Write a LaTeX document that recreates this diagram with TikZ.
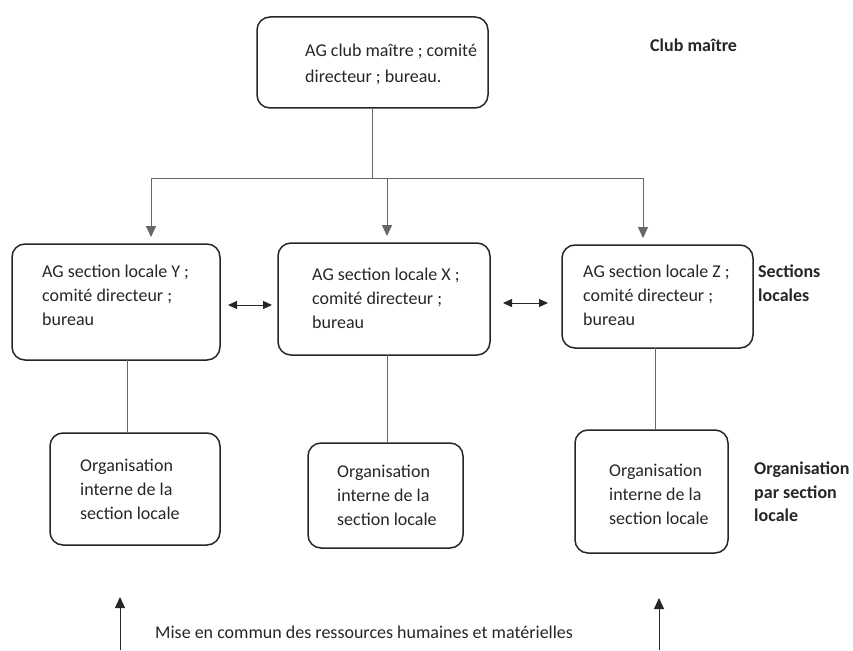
\documentclass[tikz,border=0pt]{standalone}
\usepackage{fontspec}
\setmainfont{Carlito}
\usetikzlibrary{arrows.meta,calc}
\begin{document}
\begin{tikzpicture}[x=1pt,y=-1pt,
  box/.style={draw=black!85,line width=1.5pt,rounded corners=13pt,inner sep=0pt,outer sep=0pt},
  txt/.style={anchor=west,align=left,inner sep=0pt,text=black!85,font=\fontsize{18}{24}\selectfont},
  lbl/.style={anchor=west,align=left,inner sep=0pt,text=black!85,font=\fontsize{18}{23.5}\selectfont\bfseries},
  conn/.style={draw=black!60,line width=1pt},
  arr/.style={conn,-{Triangle[length=11pt,width=10pt]}},
  darr/.style={draw=black!85,line width=1pt,{Triangle[length=9pt,width=8pt]}-{Triangle[length=9pt,width=8pt]}}]
\useasboundingbox (0,0) rectangle (853,650);
% top
\node[box,minimum width=231,minimum height=91] (T) at (372.5,62.5) {};
\node[txt] (Tt) at (305,64) {AG club maître ; comité\\[2pt]directeur ; bureau.};
\node[lbl] (L1) at (650,45) {Club maître};
% sections
\node[box,minimum width=208,minimum height=116] (Y) at (116,302) {};
\node[txt] (Yt) at (42,295) {AG section locale Y ;\\comité directeur ;\\bureau};
\node[box,minimum width=212,minimum height=112] (X) at (384,299) {};
\node[txt] (Xt) at (312,298) {AG section locale X ;\\comité directeur ;\\bureau};
\node[box,minimum width=191,minimum height=103] (Z) at (657.5,296.5) {};
\node[txt] (Zt) at (583,295) {AG section locale Z ;\\comité directeur ;\\bureau};
\node[lbl] (L2) at (758,283) {Sections\\locales};
% organisation
\node[box,minimum width=170,minimum height=112] (OY) at (135,489) {};
\node[txt] (OYt) at (80,489) {Organisation\\interne de la\\section locale};
\node[box,minimum width=155,minimum height=105] (OX) at (385.5,495.5) {};
\node[txt] (OXt) at (337,495) {Organisation\\interne de la\\section locale};
\node[box,minimum width=153,minimum height=123] (OZ) at (651.5,491.5) {};
\node[txt] (OZt) at (609,494) {Organisation\\interne de la\\section locale};
\node[lbl] (L3) at (754,492) {Organisation\\par section\\locale};
% bottom
\node[txt] (B) at (155,632) {Mise en commun des ressources humaines et matérielles};
\coordinate (BL) at (120,650);
\coordinate (BLt) at (120,597);
\coordinate (BR) at (659,650);
\coordinate (BRt) at (659,598);
\draw[arr,draw=black!85] (BL) -- (BLt);
\draw[arr,draw=black!85] (BR) -- (BRt);
% tree connectors
\coordinate (hl) at (151,178);
\coordinate (hm) at (387,178);
\coordinate (hr) at (643,178);
\draw[conn] (T.south) -- (T.south |- hl);
\draw[conn] (hl) -- (hr);
\draw[arr,shorten >=7pt] (hl) -- (hl |- Y.north);
\draw[arr,shorten >=7pt] (hm) -- (hm |- X.north);
\draw[arr,shorten >=7pt] (hr) -- (hr |- Z.north);
% down lines
\draw[conn] ([xshift=11pt]Y.south) -- ([xshift=11pt]Y.south |- OY.north);
\draw[conn] ([xshift=3pt]X.south) -- ([xshift=3pt]X.south |- OX.north);
\draw[conn] ([xshift=-2.5pt]Z.south) -- ([xshift=-2.5pt]Z.south |- OZ.north);
% double arrows
\draw[darr,shorten <=8pt,shorten >=6pt] ([yshift=-3pt]Y.east) -- ([yshift=-3pt]Y.east -| X.west);
\draw[darr,shorten <=13pt,shorten >=14pt] ([yshift=-4pt]X.east) -- ([yshift=-4pt]X.east -| Z.west);
\end{tikzpicture}
\end{document}
